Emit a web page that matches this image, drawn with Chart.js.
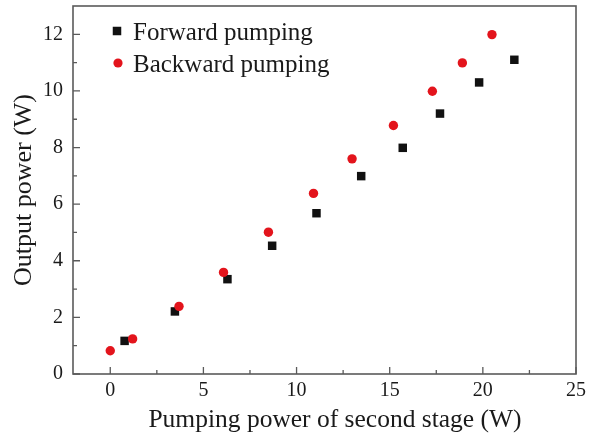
<!DOCTYPE html>
<html>
<head>
<meta charset="utf-8">
<script src="https://cdn.jsdelivr.net/npm/chart.js@4/dist/chart.umd.min.js"></script>
<style>
  html, body { margin: 0; padding: 0; background: #ffffff; }
  #wrap { width: 592px; height: 438px; }
</style>
</head>
<body>
<div id="wrap"><canvas id="c" width="592" height="438"></canvas></div>
<script>
// Output power vs. pump power of the second amplifier stage
const forwardPump   = [0.77, 3.47, 6.29, 8.69, 11.07, 13.47, 15.70, 17.70, 19.80, 21.69];
const forwardOut    = [1.17, 2.21, 3.35, 4.53, 5.68, 6.99, 7.99, 9.20, 10.30, 11.10];
const backwardPump  = [0.00, 1.20, 3.69, 6.08, 8.49, 10.91, 12.98, 15.20, 17.29, 18.90, 20.49];
const backwardOut   = [0.82, 1.24, 2.39, 3.59, 5.01, 6.38, 7.60, 8.78, 9.99, 10.99, 11.99];

const seriesNames   = ['Forward pumping', 'Backward pumping'];
const xTicks        = [0, 5, 10, 15, 20, 25];
const xMinorTicks   = [2.5, 7.5, 12.5, 17.5, 22.5];
const yTicks        = [0, 2, 4, 6, 8, 10, 12];
const yMinorTicks   = [1, 3, 5, 7, 9, 11];
const xTitle        = 'Pumping power of second stage (W)';
const yTitle        = 'Output power (W)';

const SERIF = '"Liberation Serif", "Times New Roman", serif';
const AXIS_COLOR = '#5a5a5a';
const TEXT_COLOR = '#1a1a1a';
const BLACK = '#111111';
const RED = '#e3141c';

const toPoints = (xs, ys) => xs.map((x, i) => ({ x: x, y: ys[i] }));

// Frame, inward ticks, x title and the in-plot legend
const framePlugin = {
  id: 'frame',
  afterDraw(chart) {
    const ctx = chart.ctx;
    const a = chart.chartArea;
    const xs = chart.scales.x, ys = chart.scales.y;
    ctx.save();
    ctx.strokeStyle = AXIS_COLOR;
    ctx.lineWidth = 1.6;
    ctx.strokeRect(a.left, a.top, a.right - a.left, a.bottom - a.top);

    ctx.lineWidth = 1.3;
    ctx.beginPath();
    xTicks.forEach(v => { const p = xs.getPixelForValue(v); ctx.moveTo(p, a.bottom); ctx.lineTo(p, a.bottom - 7); });
    xMinorTicks.forEach(v => { const p = xs.getPixelForValue(v); ctx.moveTo(p, a.bottom); ctx.lineTo(p, a.bottom - 4); });
    yTicks.forEach(v => { const p = ys.getPixelForValue(v); ctx.moveTo(a.left, p); ctx.lineTo(a.left + 7, p); });
    yMinorTicks.forEach(v => { const p = ys.getPixelForValue(v); ctx.moveTo(a.left, p); ctx.lineTo(a.left + 4, p); });
    ctx.stroke();

    // x-axis title
    ctx.fillStyle = TEXT_COLOR;
    ctx.font = '25.5px ' + SERIF;
    ctx.textAlign = 'center';
    ctx.textBaseline = 'alphabetic';
    ctx.fillText(xTitle, 335, 427);

    // legend
    ctx.font = '25px ' + SERIF;
    ctx.textAlign = 'left';
    ctx.fillStyle = BLACK;
    ctx.fillRect(117 - 4.25, 31 - 4.25, 8.5, 8.5);
    ctx.fillStyle = RED;
    ctx.beginPath();
    ctx.arc(118, 63, 4.6, 0, Math.PI * 2);
    ctx.fill();
    ctx.fillStyle = TEXT_COLOR;
    ctx.fillText(seriesNames[0], 133, 39.5);
    ctx.fillText(seriesNames[1], 133, 71.5);
    ctx.restore();
  }
};

new Chart(document.getElementById('c'), {
  type: 'scatter',
  data: {
    datasets: [
      {
        label: seriesNames[0],
        data: toPoints(forwardPump, forwardOut),
        pointStyle: 'rect',
        pointRadius: 6,
        pointHoverRadius: 6,
        backgroundColor: BLACK,
        borderWidth: 0,
        order: 1
      },
      {
        label: seriesNames[1],
        data: toPoints(backwardPump, backwardOut),
        pointStyle: 'circle',
        pointRadius: 4.7,
        pointHoverRadius: 4.7,
        backgroundColor: RED,
        borderWidth: 0,
        order: 0
      }
    ]
  },
  options: {
    responsive: false,
    animation: false,
    devicePixelRatio: 1,
    layout: { padding: { top: 4, right: 16, bottom: 0, left: 0 } },
    plugins: { legend: { display: false }, tooltip: { enabled: false } },
    scales: {
      x: {
        type: 'linear',
        min: -2,
        max: 25,
        afterBuildTicks: s => { s.ticks = xTicks.map(v => ({ value: v })); },
        afterFit: s => { s.height = 64; s.paddingLeft = 0; s.paddingRight = 0; },
        grid: { display: false, drawTicks: false },
        border: { display: false },
        ticks: {
          color: TEXT_COLOR,
          padding: 5,
          maxRotation: 0,
          autoSkip: false,
          font: { family: SERIF, size: 20, lineHeight: 1.2 }
        }
      },
      y: {
        type: 'linear',
        min: 0,
        max: 13,
        afterBuildTicks: s => { s.ticks = yTicks.map(v => ({ value: v })); },
        afterFit: s => { s.width = 73; s.paddingTop = 0; s.paddingBottom = 0; },
        grid: { display: false, drawTicks: false },
        border: { display: false },
        ticks: {
          color: TEXT_COLOR,
          padding: 10,
          autoSkip: false,
          font: { family: SERIF, size: 20, lineHeight: 1.2 }
        },
        title: {
          display: true,
          text: yTitle,
          color: TEXT_COLOR,
          padding: { top: 11, bottom: 0 },
          font: { family: SERIF, size: 26, lineHeight: 1 }
        }
      }
    }
  },
  plugins: [framePlugin]
});
</script>
</body>
</html>
